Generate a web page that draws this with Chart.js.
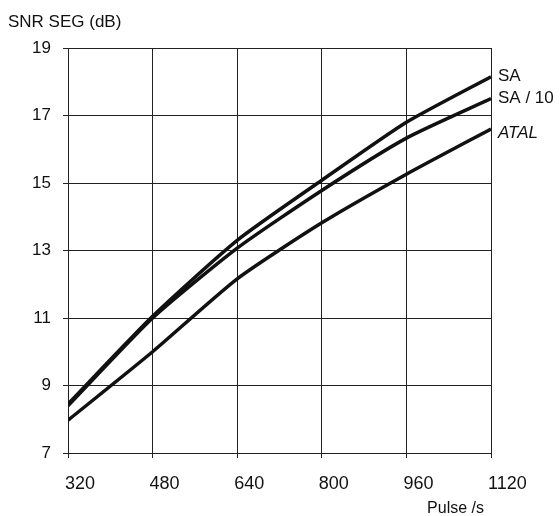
<!DOCTYPE html>
<html>
<head>
<meta charset="utf-8">
<script src="https://cdn.jsdelivr.net/npm/chart.js@4.4.1/dist/chart.umd.min.js"></script>
<style>
  html, body { margin: 0; padding: 0; background: #fff; }
  #wrap { width: 560px; height: 516px; position: relative; }
</style>
</head>
<body>
<div id="wrap"><canvas id="c" width="560" height="516"></canvas></div>
<script>
// ---- data ----
const pulses = [320, 480, 640, 800, 960, 1120];
const saValues = [8.45, 11.05, 13.3, 15.08, 16.8, 18.15];
const sa10Values = [8.4, 11.0, 13.07, 14.78, 16.33, 17.5];
const atalValues = [7.97, 10.0, 12.16, 13.82, 15.26, 16.6];
const seriesNames = ['SA', 'SA / 10', 'ATAL'];
const yTicks = [7, 9, 11, 13, 15, 17, 19];
const xTicks = [320, 480, 640, 800, 960, 1120];
const yTitle = 'SNR SEG (dB)';
const xTitle = 'Pulse /s';

const FONT = "'Liberation Sans', Arial, Helvetica, sans-serif";
const toPts = (vals) => vals.map((v, i) => ({ x: pulses[i], y: v }));

const endLabels = {
  id: 'endLabels',
  afterDatasetsDraw(chart) {
    const ctx = chart.ctx;
    const xs = chart.scales.x, ys = chart.scales.y;
    ctx.save();
    ctx.fillStyle = '#111';
    ctx.textBaseline = 'middle';
    ctx.textAlign = 'left';
    chart.data.datasets.forEach((ds, i) => {
      const last = ds.data[ds.data.length - 1];
      const px = xs.getPixelForValue(last.x) + 7;
      let py = ys.getPixelForValue(last.y);
      if (i === 2) py += 4;
      ctx.font = (i === 2 ? 'italic ' : '') + '17px ' + FONT;
      ctx.fillText(ds.label, px, py);
    });
    // axis titles
    ctx.font = '17px ' + FONT;
    ctx.textAlign = 'left';
    ctx.fillText(yTitle, 8, 22);
    ctx.font = '16px ' + FONT;
    ctx.textAlign = 'right';
    ctx.fillText(xTitle, chart.chartArea.right - 7, 509);
    ctx.restore();
  }
};

new Chart(document.getElementById('c'), {
  type: 'line',
  data: {
    datasets: [
      { label: seriesNames[0], data: toPts(saValues) },
      { label: seriesNames[1], data: toPts(sa10Values) },
      { label: seriesNames[2], data: toPts(atalValues) }
    ].map(d => Object.assign(d, {
      borderColor: '#111', borderWidth: 3.5, pointRadius: 0, tension: 0.2, fill: false
    }))
  },
  options: {
    responsive: false,
    animation: false,
    devicePixelRatio: 1,
    layout: { padding: { top: 48, right: 69, bottom: 0, left: 0 } },
    plugins: { legend: { display: false }, tooltip: { enabled: false }, title: { display: false } },
    scales: {
      x: {
        type: 'linear', min: 320, max: 1120,
        afterFit: (s) => { s.height = 63; },
        afterBuildTicks: (s) => { s.ticks = xTicks.map(v => ({ value: v })); },
        grid: { color: '#222', lineWidth: 1, tickLength: 5, tickColor: '#222' },
        border: { color: '#222', width: 1 },
        ticks: { color: '#111', font: { family: FONT, size: 18 }, align: 'start', labelOffset: -3, padding: 15, maxRotation: 0,
                 callback: (v) => String(v) }
      },
      y: {
        type: 'linear', min: 7, max: 19,
        afterFit: (s) => { s.width = 68; },
        afterBuildTicks: (s) => { s.ticks = yTicks.map(v => ({ value: v })); },
        grid: { color: '#222', lineWidth: 1, tickLength: 5, tickColor: '#222' },
        border: { color: '#222', width: 1 },
        ticks: { color: '#111', font: { family: FONT, size: 17 }, padding: 12, callback: (v) => String(v) }
      }
    }
  },
  plugins: [endLabels]
});
</script>
</body>
</html>
